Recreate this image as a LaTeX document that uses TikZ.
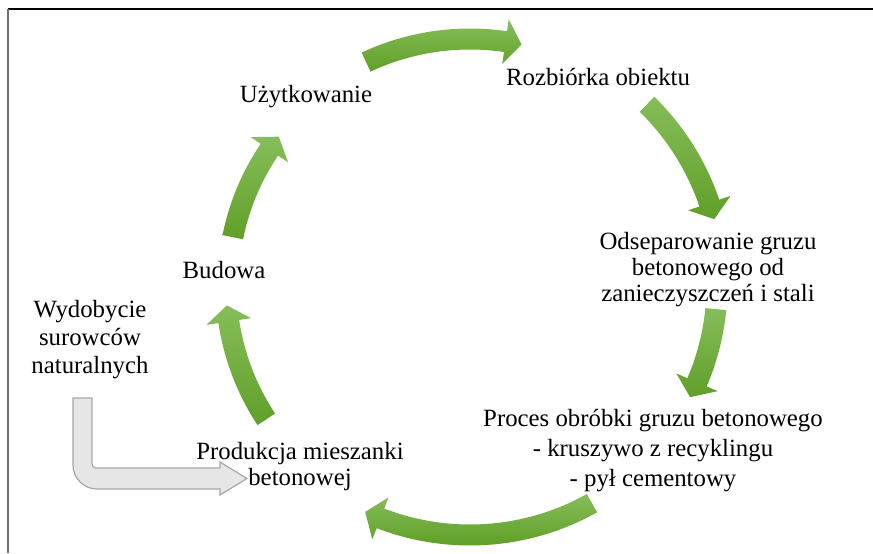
\documentclass[tikz,border=0pt]{standalone}
\usepackage{fontspec}
\setmainfont{Liberation Serif}
\definecolor{arrowlight}{RGB}{134,190,90}
\definecolor{arrowdark}{RGB}{96,159,40}
\definecolor{greyfill}{RGB}{230,230,230}
\definecolor{greyline}{RGB}{168,168,168}
\definecolor{frameleft}{RGB}{110,110,110}
\newcommand\greenarrow[3]{%
  \shade[arrowshade]
    plot[smooth,domain=#2:#3,samples=14] ({470+(#1+10.5)*cos(\x)},{285+(#1+10.5)*sin(\x)})
    -- ({470+(#1+22.5)*cos(#3)},{285+(#1+22.5)*sin(#3)})
    -- ({470+#1*cos(#3+3.8)},{285+#1*sin(#3+3.8)})
    -- ({470+(#1-22.5)*cos(#3)},{285+(#1-22.5)*sin(#3)})
    -- plot[smooth,domain=#3:#2,samples=14] ({470+(#1-10.5)*cos(\x)},{285+(#1-10.5)*sin(\x)})
    -- cycle;}
\begin{document}
\begin{tikzpicture}[x=0.5pt,y=-0.5pt,
  arrowshade/.style={top color=arrowlight,bottom color=arrowdark},
  txt/.style={font=\fontsize{12.4}{13}\selectfont,inner sep=0pt,align=center,anchor=base},
  greyarrow/.style={fill=greyfill,draw=greyline,line width=0.6pt,line join=miter}]
\useasboundingbox (0,0) rectangle (873,553);
% frame lines
\coordinate (f0) at (8,9);
\coordinate (f1) at (873,9);
\coordinate (f2) at (8,553);
\draw[black,line width=0.8pt] (f0) -- (f1);
\draw[frameleft,line width=0.8pt] (f0) -- (f2);
% green cycle arrows
\greenarrow{246}{245}{278.3}
\greenarrow{253}{314.4}{341.1}
\greenarrow{247}{5.6}{23.2}
\greenarrow{250}{60.8}{111}
\greenarrow{244}{146.6}{171.4}
\greenarrow{242}{191.4}{214}
% grey bent arrow
\draw[greyarrow] (73,398) -- (73,465) .. controls (73,478.25) and (83.75,489) .. (97,489)
  -- (220,489) -- (220,495) -- (247,478.5) -- (220,462) -- (220,468) -- (96,468)
  .. controls (93.8,468) and (92,466.2) .. (92,464) -- (92,398) -- cycle;
% texts (base anchor = baseline of last line)
\node[txt] (uz) at (306,102) {Użytkowanie};
\node[txt] (rozb) at (598,85) {Rozbiórka obiektu};
\node[txt] (odsep) at (708,301) {Odseparowanie gruzu\\betonowego od\\zanieczyszczeń i stali};
\node[txt,font=\fontsize{12.4}{14.8}\selectfont] (proc) at (653,486) {Proces obróbki gruzu betonowego\\- kruszywo z recyklingu\\- pył cementowy};
\node[txt] (prod) at (300,485) {Produkcja mieszanki\\betonowej};
\node[txt] (bud) at (224,278) {Budowa};
\node[txt,font=\fontsize{12.4}{13.8}\selectfont] (wyd) at (90,373) {Wydobycie\\surowców\\naturalnych};
\end{tikzpicture}
\end{document}
